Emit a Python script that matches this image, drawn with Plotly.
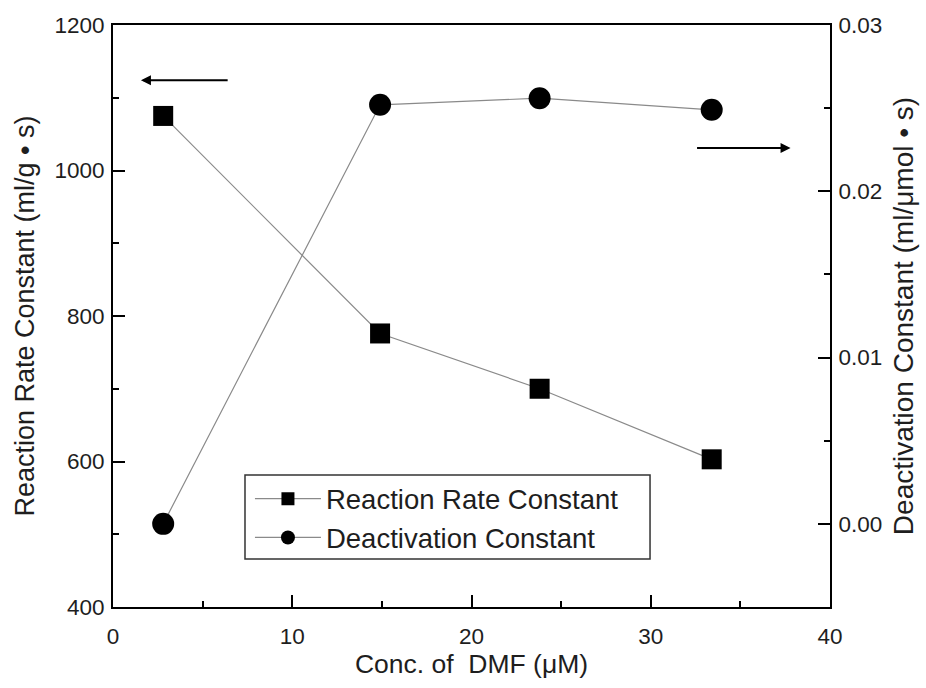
import plotly.graph_objects as go

# DMF concentration (uM)
conc = [2.8, 14.9, 23.8, 33.4]
# Reaction rate constant (ml/g·s), left axis
rate_const = [1075, 776, 700, 603]
# Deactivation constant (ml/umol·s), right axis
deact_const = [0.0, 0.0252, 0.0256, 0.0249]

series_names = ["Reaction Rate Constant", "Deactivation Constant"]

FONT = "Liberation Sans, Arial, sans-serif"
LINE_GREY = "#8a8a8a"
TXT = "#1e1e1e"

fig = go.Figure()
fig.add_trace(go.Scatter(
    x=conc, y=rate_const, name=series_names[0], mode="lines+markers",
    line=dict(color=LINE_GREY, width=1.2),
    marker=dict(symbol="square", size=20, color="black", line=dict(width=0)),
    yaxis="y", showlegend=False,
))
fig.add_trace(go.Scatter(
    x=conc, y=deact_const, name=series_names[1], mode="lines+markers",
    line=dict(color=LINE_GREY, width=1.2),
    marker=dict(symbol="circle", size=22, color="black", line=dict(width=0)),
    yaxis="y2", showlegend=False,
))
# Legend entries with smaller symbols and thin lines
for name, sym, sz in [(series_names[0], "square", 13), (series_names[1], "circle", 14)]:
    fig.add_trace(go.Scatter(
        x=[None], y=[None], name=name, mode="lines+markers",
        line=dict(color=LINE_GREY, width=1.2),
        marker=dict(symbol=sym, size=sz, color="black", line=dict(width=0)),
        showlegend=True,
    ))

axis_common = dict(
    showgrid=False, zeroline=False, showline=True, linecolor="black", linewidth=2,
    ticks="inside", ticklen=12, tickwidth=2, tickcolor="black", automargin=False,
    tickfont=dict(family=FONT, size=22.5, color=TXT),
)
minor_common = dict(ticks="inside", ticklen=6, tickwidth=2, tickcolor="black", showgrid=False)

fig.update_layout(
    width=926, height=688,
    margin=dict(l=113, r=96, t=25, b=81),
    paper_bgcolor="white", plot_bgcolor="white",
    font=dict(family=FONT, color=TXT),
    xaxis=dict(
        **axis_common, range=[0, 40], tickmode="linear", tick0=0, dtick=10, mirror=True,
        ticklabelstandoff=8,
        minor=dict(**minor_common, tick0=0, dtick=5),
        title=dict(text="Conc. of  DMF (\u03bcM)", font=dict(family=FONT, size=26.5, color=TXT), standoff=6),
    ),
    yaxis=dict(
        **axis_common, range=[400, 1200], tickmode="linear", tick0=400, dtick=200,
        ticklabelstandoff=2,
        minor=dict(**minor_common, tick0=400, dtick=100),
        title=dict(text="Reaction Rate Constant (ml/g \u2022 s)", font=dict(family=FONT, size=27, color=TXT), standoff=12),
    ),
    yaxis2=dict(
        **axis_common, overlaying="y", side="right", range=[-0.005, 0.03],
        tickmode="linear", tick0=0, dtick=0.01, tickformat=".2f",
        ticklabelstandoff=2,
        minor=dict(**minor_common, tick0=-0.005, dtick=0.005),
        title=dict(text="Deactivation Constant (ml/\u03bcmol \u2022 s)", font=dict(family=FONT, size=28, color=TXT), standoff=12),
    ),
    legend=dict(
        x=0.191, y=0.228, xanchor="left", yanchor="top",
        borderwidth=0, bgcolor="rgba(0,0,0,0)",
        font=dict(family=FONT, size=27.5, color=TXT),
        itemwidth=66, itemsizing="trace", tracegroupgap=0,
    ),
    showlegend=True,
)

# Frame around the legend
fig.add_shape(type="rect", xref="paper", yref="paper",
              x0=0.1841, x1=0.749, y0=0.0825, y1=0.2268,
              line=dict(color="#333", width=1.5), fillcolor="white", layer="below")

# Arrows pointing to each series' axis
fig.add_annotation(x=1.56, y=1124, ax=6.48, ay=1124, xref="x", yref="y", axref="x", ayref="y",
                   showarrow=True, arrowhead=2, arrowsize=1, arrowwidth=2, arrowcolor="black", text="")
fig.add_annotation(x=37.8, y=0.0226, ax=32.5, ay=0.0226, xref="x", yref="y2", axref="x", ayref="y2",
                   showarrow=True, arrowhead=2, arrowsize=1, arrowwidth=2, arrowcolor="black", text="")

fig.write_html("out.html")
